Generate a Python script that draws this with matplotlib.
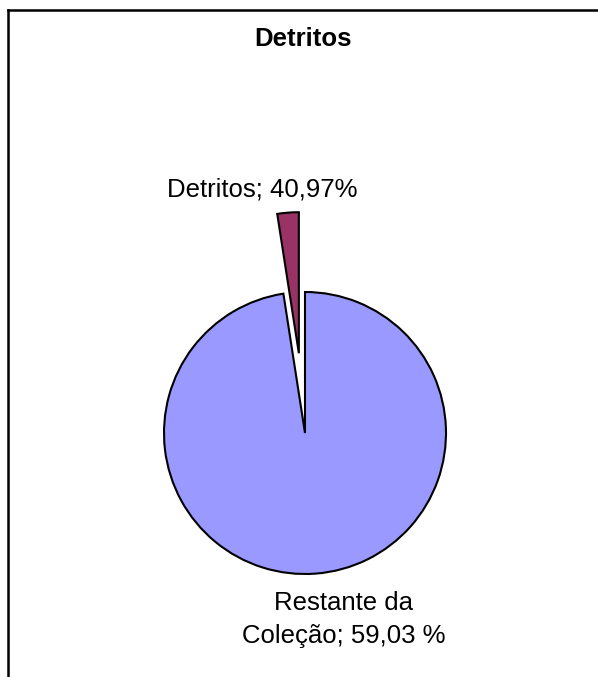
import matplotlib
matplotlib.use("Agg")
import matplotlib.pyplot as plt
from matplotlib.lines import Line2D

# Data (slice proportions as drawn; labels as printed on the chart)
categories = ["Detritos", "Restante da Coleção"]
slice_values = [2.45, 97.55]
label_texts = ["Detritos; 40,97%", ["Restante da", "Coleção; 59,03 %"]]
title = "Detritos"
colors = ["#993366", "#9999FF"]

W, H = 598, 677
fig = plt.figure(figsize=(W / 100, H / 100), dpi=100)
ax = fig.add_axes([0, 0, 1, 1])
ax.set_xlim(0, W)
ax.set_ylim(0, H)
ax.set_aspect("equal")
ax.axis("off")

def py(y):
    return H - y

wedges, _ = ax.pie(slice_values, colors=colors, startangle=90, counterclock=True,
                   center=(305, py(433)), radius=141, explode=[80, 0],
                   wedgeprops=dict(edgecolor="black", linewidth=1.5),
                   frame=True)
ax.set_xlim(0, W)
ax.set_ylim(0, H)
ax.axis("off")

font = "Liberation Sans"
ax.text(303, py(46), title, ha="center", va="baseline", fontsize=18.5,
        fontweight="bold", family=font)
ax.text(262, py(197), label_texts[0], ha="center", va="baseline", fontsize=18.5,
        family=font)
ax.text(344, py(610), label_texts[1][0], ha="center", va="baseline", fontsize=18.5,
        family=font)
ax.text(344, py(643), label_texts[1][1], ha="center", va="baseline", fontsize=18.5,
        family=font)

# chart border (top and left visible)
fig.add_artist(Line2D([8 / W, 1], [1 - 10 / H, 1 - 10 / H], color="black", lw=1.8,
                      transform=fig.transFigure))
fig.add_artist(Line2D([8 / W, 8 / W], [0, 1 - 10 / H], color="black", lw=1.8,
                      transform=fig.transFigure))

fig.savefig("out.png", dpi=100)
